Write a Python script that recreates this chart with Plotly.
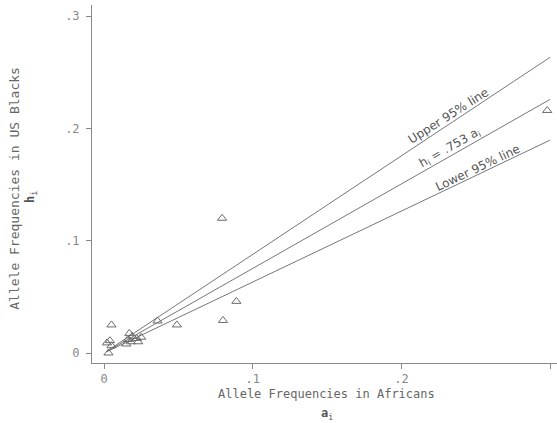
import plotly.graph_objects as go

# Allele frequencies
africans = [0.298, 0.0794, 0.089, 0.080, 0.049, 0.036, 0.005,
            0.017, 0.002, 0.004, 0.005, 0.003, 0.016, 0.015, 0.022,
            0.025, 0.023, 0.019, 0.018]
us_blacks = [0.216, 0.120, 0.046, 0.029, 0.025, 0.0285, 0.025,
             0.0175, 0.009, 0.011, 0.0065, 0.0, 0.012, 0.008, 0.013,
             0.014, 0.010, 0.015, 0.010]

# Regression lines through the origin: slopes
line_names = ["Upper 95% line", "h<sub>i</sub> = .753 a<sub>i</sub>", "Lower 95% line"]
slopes = [0.878, 0.753, 0.632]
line_x = [0.002, 0.3]
label_x = [0.2313, 0.2327, 0.2512]
label_y = [0.2115, 0.1825, 0.1645]
label_angle = [-32.5, -29.6, -25.5]

tick_vals = [0, 0.1, 0.2, 0.3]
tick_text = ["0", ".1", ".2", ".3"]

grey = "#6a6a6a"
fig = go.Figure()

for s in slopes:
    fig.add_trace(go.Scatter(
        x=line_x, y=[s * v for v in line_x], mode="lines",
        line=dict(color="#777777", width=1), hoverinfo="skip", showlegend=False))

fig.add_trace(go.Scatter(
    x=africans, y=us_blacks, mode="markers",
    marker=dict(symbol="triangle-up-open", size=8, color=grey,
                line=dict(width=1, color=grey)),
    cliponaxis=False, showlegend=False))

for name, lx, ly, ang in zip(line_names, label_x, label_y, label_angle):
    fig.add_annotation(x=lx, y=ly, xref="x", yref="y", text=name,
                       textangle=ang, showarrow=False,
                       font=dict(family="DejaVu Sans", size=12, color="#555555"))

mono = "DejaVu Sans Mono"
fig.add_annotation(x=0.505, y=-0.087, xref="paper", yref="paper",
                   text="Allele Frequencies in Africans", showarrow=False,
                   font=dict(family=mono, size=12, color="#666666"),
                   xanchor="center", yanchor="middle")
fig.add_annotation(x=0.505, y=-0.1425, xref="paper", yref="paper",
                   text="<b>a</b><sub>i</sub>", showarrow=False,
                   font=dict(family=mono, size=12, color="#555555"),
                   xanchor="center", yanchor="middle")
fig.add_annotation(x=-0.166, y=0.489, xref="paper", yref="paper",
                   text="Allele Frequencies in US Blacks", showarrow=False,
                   textangle=-90,
                   font=dict(family=mono, size=13, color="#666666"),
                   xanchor="center", yanchor="middle")
fig.add_annotation(x=-0.131, y=0.4637, xref="paper", yref="paper",
                   text="<b>h</b><sub>i</sub>", showarrow=False,
                   textangle=-90,
                   font=dict(family=mono, size=12, color="#555555"),
                   xanchor="center", yanchor="middle")

axis_common = dict(showline=True, linecolor="#8a8a8a", linewidth=1,
                   ticks="outside", ticklen=5, tickcolor="#8a8a8a",
                   showgrid=False, zeroline=False, automargin=False,
                   tickvals=tick_vals, ticktext=tick_text,
                   tickfont=dict(family=mono, size=12, color="#888888"))

fig.update_layout(
    width=557, height=423,
    margin=dict(l=92, r=0, t=5, b=60),
    paper_bgcolor="white", plot_bgcolor="white",
    xaxis=dict(range=[-0.00807, 0.3046], **axis_common),
    yaxis=dict(range=[-0.0089, 0.3099], ticklabelstandoff=4, **axis_common),
)

fig.write_html("out.html", config={"displayModeBar": False},
               post_script="document.body.style.margin='0px';document.body.style.overflow='hidden';")
